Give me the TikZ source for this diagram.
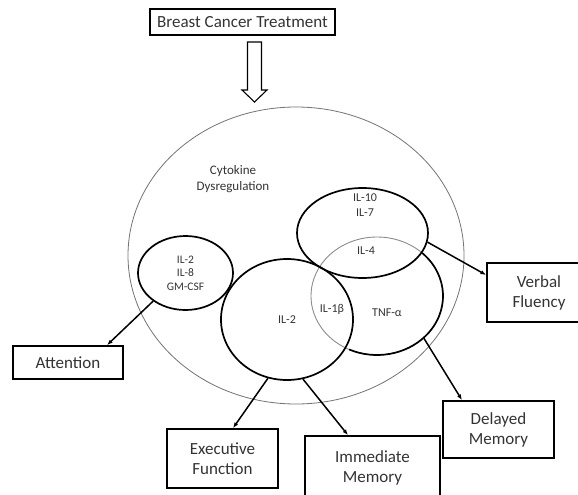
\documentclass[tikz,border=0pt]{standalone}
\usepackage{fontspec}
\setmainfont{Carlito}
\usetikzlibrary{arrows.meta,positioning,shapes.geometric}

\begin{document}
\begin{tikzpicture}[x=1pt,y=-1pt,box/.style={draw,line width=1.7pt,align=center,inner sep=0pt,font=\fontsize{17}{20}\selectfont,text=black!80},ring/.style={draw,ellipse,line width=1.7pt,inner sep=0pt,align=center,font=\fontsize{12}{15}\selectfont,text=black!80},lbl/.style={align=center,inner sep=0pt,font=\fontsize{12}{15}\selectfont,text=black!80},arr/.style={-{Latex[length=2mm]},line width=1.5pt}]
\useasboundingbox (0,0) rectangle (578,495);
\node[box,minimum width=185,minimum height=26] (bct) at (242.5,22) {Breast Cancer Treatment};
% hollow arrow
\draw[line width=1.1pt] (247.5,42)--(261.5,42)--(261.5,90)--(267,90)--(254.5,102)--(242,90)--(247.5,90)--cycle;
% cytokine circles
\node[ellipse,draw=black!55,line width=0.8pt,minimum width=336,minimum height=297] (cyt) at (296,255.5) {};
\node[lbl,font=\fontsize{13}{16}\selectfont] (cytl) at (233,179) {Cytokine\\Dysregulation};
\node[ellipse,draw=black!45,line width=0.9pt,minimum width=132,minimum height=118] (tnf) at (377,296) {};
\draw[line width=1.7pt] (tnf.center) ++(-47:66 and 59) arc[start angle=-47,end angle=115,x radius=66,y radius=59];
\node[ring,minimum width=95,minimum height=74,font=\fontsize{11.5}{13.5}\selectfont] (gm) at (185.5,273) {IL-2\\IL-8\\GM-CSF};
\node[ring,minimum width=131,minimum height=90] (il10) at (362.5,233) {};
\node[ring,minimum width=132,minimum height=121] (il2) at (287,319.5) {IL-2};
\node[lbl] (il10l) at (365,205) {IL-10\\IL-7};
\node[lbl] (il4) at (366,251) {IL-4};
\node[lbl] (il1b) at (332,309) {IL-1β};
\node[lbl] (tnfl) at (387,313) {TNF-α};
% outcomes
\node[box,minimum width=110,minimum height=33] (att) at (68,362.5) {Attention};
\node[box,minimum width=111,minimum height=59] (exe) at (222.5,458.5) {Executive\\Function};
\node[box,minimum width=135,minimum height=64] (imm) at (372.5,468) {Immediate\\Memory};
\node[box,minimum width=111,minimum height=57] (del) at (498.5,429.5) {Delayed\\Memory};
\node[box,minimum width=104,minimum height=59] (vf) at (539,292.5) {Verbal\\Fluency};
\draw[arr](gm.221)--([xshift=39pt]att.north);\draw[arr](il2.252)--([xshift=10.5pt]exe.north);
\draw[arr](il2.285)--([xshift=-24.5pt]imm.north);\draw[arr](tnf.-42.5)--([xshift=-36.5pt]del.north);
\draw[arr](il10.-8)--([yshift=17.5pt]vf.west);
\end{tikzpicture}
\end{document}
